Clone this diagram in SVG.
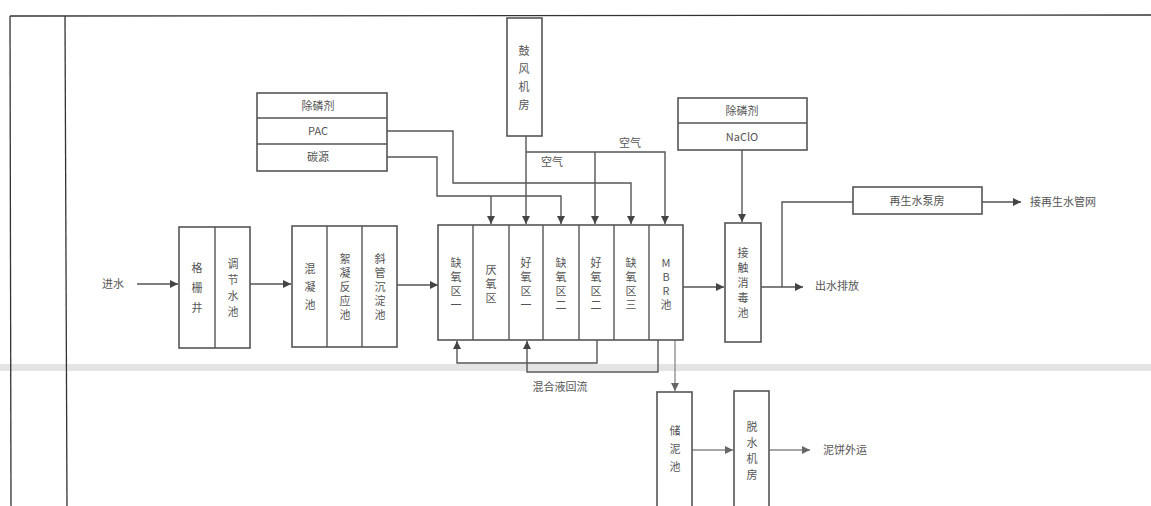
<svg xmlns="http://www.w3.org/2000/svg" width="1151" height="506" viewBox="0 0 1151 506">
<defs>
<style>
.box{fill:#fff;stroke:#555;stroke-width:1.6}
.div{stroke:#555;stroke-width:1.4}
.ln{fill:none;stroke:#555;stroke-width:1.4}
.lt{fill:none;stroke:#888;stroke-width:1.3}
.fr{fill:none;stroke:#333;stroke-width:1.3}
.t{font-family:"Noto Sans CJK SC","Noto Sans",sans-serif;font-size:11px;fill:#555}
.v{font-family:"Noto Sans CJK SC","Noto Sans",sans-serif;font-size:11px;fill:#555;text-anchor:middle;dominant-baseline:central}
</style>
<marker id="ah" viewBox="0 0 10 10" refX="10" refY="5" markerWidth="8" markerHeight="8" markerUnits="userSpaceOnUse" orient="auto">
<path d="M0,0 L10,5 L0,10 z" fill="#444"/>
</marker>
<marker id="ahl" viewBox="0 0 10 10" refX="10" refY="5" markerWidth="8" markerHeight="8" markerUnits="userSpaceOnUse" orient="auto">
<path d="M0,0 L10,5 L0,10 z" fill="#666"/>
</marker>
</defs>
<rect width="1151" height="506" fill="#fff"/>
<rect x="0" y="364" width="1151" height="7" fill="#ddd" opacity="0.8"/>
<g id="frame">
<line class="fr" x1="10" y1="16" x2="1151" y2="15"/>
<line class="fr" x1="10" y1="16" x2="11" y2="506"/>
<line class="fr" x1="65" y1="16" x2="67" y2="506"/>
</g>
<g id="connectors">
<line class="ln" x1="137" y1="284" x2="178" y2="284" marker-end="url(#ah)"/>
<line class="ln" x1="250" y1="284" x2="291" y2="284" marker-end="url(#ah)"/>
<line class="ln" x1="397" y1="285" x2="438" y2="285" marker-end="url(#ah)"/>
<polyline class="ln" points="387,131 453,131 453,183 631,183 631,224" marker-end="url(#ah)"/>
<polyline class="ln" points="387,157 437,157 437,196 561,196 561,224" marker-end="url(#ah)"/>
<line class="ln" x1="491" y1="196" x2="491" y2="224" marker-end="url(#ah)"/>
<line class="ln" x1="526" y1="136" x2="526" y2="224" marker-end="url(#ah)"/>
<polyline class="ln" points="526,152 665,152 665,224" marker-end="url(#ah)"/>
<line class="ln" x1="595" y1="152" x2="595" y2="224" marker-end="url(#ah)"/>
<line class="ln" x1="742" y1="150" x2="742" y2="222" marker-end="url(#ah)"/>
<line class="ln" x1="683" y1="287" x2="724" y2="287" marker-end="url(#ah)"/>
<line class="ln" x1="761" y1="287" x2="803" y2="287" marker-end="url(#ah)"/>
<polyline class="ln" points="782,287 782,202 853,202"/>
<line class="ln" x1="982" y1="202" x2="1021" y2="202" marker-end="url(#ah)"/>
<polyline class="ln" points="597,340 597,363 457,363 457,341" marker-end="url(#ah)"/>
<polyline class="ln" points="658,340 658,372 527,372 527,341" marker-end="url(#ah)"/>
<line class="lt" x1="675" y1="340" x2="675" y2="391" marker-end="url(#ahl)"/>
<line class="lt" x1="692" y1="450" x2="733" y2="450" marker-end="url(#ahl)"/>
<line class="lt" x1="769" y1="450" x2="810" y2="450" marker-end="url(#ahl)"/>
</g>
<g id="inflow"><text class="t" x="113" y="288" text-anchor="middle">进水</text></g>
<g id="pretreat">
<rect class="box" x="179" y="227" width="71" height="121"/>
<line class="div" x1="215" y1="227" x2="215" y2="348"/>
<text class="v"><tspan x="197" y="267">格</tspan><tspan x="197" y="287">栅</tspan><tspan x="197" y="307">井</tspan></text>
<text class="v"><tspan x="233" y="263">调</tspan><tspan x="233" y="279">节</tspan><tspan x="233" y="295">水</tspan><tspan x="233" y="311">池</tspan></text>
</g>
<g id="coag">
<rect class="box" x="292" y="226" width="105" height="121"/>
<line class="div" x1="327" y1="226" x2="327" y2="347"/>
<line class="div" x1="362" y1="226" x2="362" y2="347"/>
<text class="v"><tspan x="310" y="268">混</tspan><tspan x="310" y="286">凝</tspan><tspan x="310" y="304">池</tspan></text>
<text class="v"><tspan x="345" y="258">絮</tspan><tspan x="345" y="272">凝</tspan><tspan x="345" y="286">反</tspan><tspan x="345" y="300">应</tspan><tspan x="345" y="314">池</tspan></text>
<text class="v"><tspan x="380" y="258">斜</tspan><tspan x="380" y="272">管</tspan><tspan x="380" y="286">沉</tspan><tspan x="380" y="300">淀</tspan><tspan x="380" y="314">池</tspan></text>
</g>
<g id="bio">
<rect class="box" x="438" y="225" width="245" height="115"/>
<line class="div" x1="473" y1="225" x2="473" y2="340"/>
<line class="div" x1="509" y1="225" x2="509" y2="340"/>
<line class="div" x1="543" y1="225" x2="543" y2="340"/>
<line class="div" x1="579" y1="225" x2="579" y2="340"/>
<line class="div" x1="614" y1="225" x2="614" y2="340"/>
<line class="div" x1="649" y1="225" x2="649" y2="340"/>
<text class="v"><tspan x="456" y="262">缺</tspan><tspan x="456" y="276">氧</tspan><tspan x="456" y="290">区</tspan><tspan x="456" y="304">一</tspan></text>
<text class="v"><tspan x="491" y="269">厌</tspan><tspan x="491" y="283">氧</tspan><tspan x="491" y="297">区</tspan></text>
<text class="v"><tspan x="526" y="262">好</tspan><tspan x="526" y="276">氧</tspan><tspan x="526" y="290">区</tspan><tspan x="526" y="304">一</tspan></text>
<text class="v"><tspan x="561" y="262">缺</tspan><tspan x="561" y="276">氧</tspan><tspan x="561" y="290">区</tspan><tspan x="561" y="304">二</tspan></text>
<text class="v"><tspan x="596" y="262">好</tspan><tspan x="596" y="276">氧</tspan><tspan x="596" y="290">区</tspan><tspan x="596" y="304">二</tspan></text>
<text class="v"><tspan x="631" y="262">缺</tspan><tspan x="631" y="276">氧</tspan><tspan x="631" y="290">区</tspan><tspan x="631" y="304">三</tspan></text>
<text class="v"><tspan x="666" y="262">M</tspan><tspan x="666" y="276">B</tspan><tspan x="666" y="290">R</tspan><tspan x="666" y="304">池</tspan></text>
</g>
<g id="chem1">
<rect class="box" x="257" y="93" width="130" height="78"/>
<line class="div" x1="257" y1="118" x2="387" y2="118"/>
<line class="div" x1="257" y1="144" x2="387" y2="144"/>
<text class="t" x="318" y="110" text-anchor="middle">除磷剂</text>
<text class="t" x="318" y="135" text-anchor="middle">PAC</text>
<text class="t" x="318" y="161" text-anchor="middle">碳源</text>
</g>
<g id="blower">
<rect class="box" x="507" y="18" width="35" height="118"/>
<text class="v"><tspan x="524" y="50">鼓</tspan><tspan x="524" y="68">风</tspan><tspan x="524" y="86">机</tspan><tspan x="524" y="104">房</tspan></text>
<text class="t" x="552" y="166" text-anchor="middle">空气</text>
<text class="t" x="630" y="147" text-anchor="middle">空气</text>
</g>
<g id="chem2">
<rect class="box" x="678" y="98" width="129" height="52"/>
<line class="div" x1="678" y1="123" x2="807" y2="123"/>
<text class="t" x="742" y="115" text-anchor="middle">除磷剂</text>
<text class="t" x="742" y="141" text-anchor="middle">NaClO</text>
</g>
<g id="disinfect">
<rect class="box" x="725" y="223" width="36" height="119"/>
<text class="v"><tspan x="743" y="252">接</tspan><tspan x="743" y="267">触</tspan><tspan x="743" y="282">消</tspan><tspan x="743" y="297">毒</tspan><tspan x="743" y="312">池</tspan></text>
</g>
<g id="outflow"><text class="t" x="815" y="290">出水排放</text></g>
<g id="reuse">
<rect class="box" x="853" y="187" width="129" height="27"/>
<text class="t" x="917" y="205" text-anchor="middle">再生水泵房</text>
<text class="t" x="1030" y="206">接再生水管网</text>
</g>
<g id="recycle"><text class="t" x="560" y="391" text-anchor="middle">混合液回流</text></g>
<g id="sludge">
<rect class="box" x="657" y="392" width="35" height="120"/>
<text class="v"><tspan x="675" y="430">储</tspan><tspan x="675" y="448">泥</tspan><tspan x="675" y="466">池</tspan></text>
</g>
<g id="dewater">
<rect class="box" x="734" y="391" width="35" height="120"/>
<text class="v"><tspan x="752" y="426">脱</tspan><tspan x="752" y="442">水</tspan><tspan x="752" y="458">机</tspan><tspan x="752" y="474">房</tspan></text>
<text class="t" x="823" y="454">泥饼外运</text>
</g>
</svg>
